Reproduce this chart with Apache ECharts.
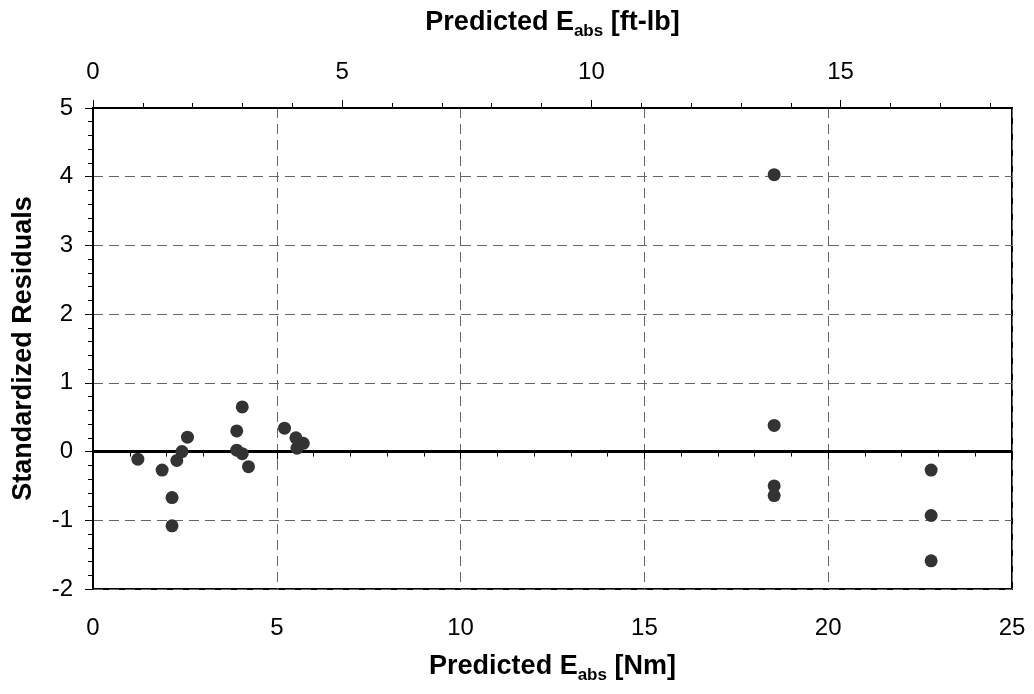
<!DOCTYPE html>
<html>
<head>
<meta charset="utf-8">
<script src="https://cdn.jsdelivr.net/npm/echarts@6/dist/echarts.min.js"></script>
<style>
  html, body { margin: 0; padding: 0; background: #fff; }
  #chart { width: 1034px; height: 694px; }
</style>
</head>
<body>
<div id="chart"></div>
<script>
// Predicted absorbed energy [Nm] and the standardized residual at each point
const predictedNm = [
  1.22, 1.88, 2.15, 2.15, 2.28, 2.42, 2.57,
  3.91, 4.06, 3.91, 4.06, 4.23,
  5.21, 5.52, 5.55, 5.62, 5.72,
  18.53, 18.53, 18.53, 18.53,
  22.80, 22.80, 22.80
];
const residuals = [
  -0.11, -0.27, -0.67, -1.08, -0.13, 0.00, 0.21,
  0.30, 0.65, 0.02, -0.03, -0.22,
  0.34, 0.20, 0.05, 0.13, 0.12,
  4.03, 0.38, -0.50, -0.64,
  -0.27, -0.93, -1.59
];

// Axis ranges and tick values
const nmRange = [0, 25];
const NM_PER_FTLB = 1.35582;
const ftlbMax = nmRange[1] / NM_PER_FTLB;
const ftlbMajorTicks = [0, 5, 10, 15];
const ftlbMinorTicks = [1, 2, 3, 4, 6, 7, 8, 9, 11, 12, 13, 14, 16, 17, 18];
const residualRange = [-2, 5];
const zeroLine = [[0, 0], [25, 0]];

const font = 'Liberation Sans, Arial, sans-serif';
const titleRich = {
  a: { fontFamily: font, fontSize: 27, fontWeight: 'bold', color: '#000' },
  sub: { fontFamily: font, fontSize: 17, fontWeight: 'bold', color: '#000', padding: [18, 0, 0, 0] }
};
const tickFont = { fontFamily: font, fontSize: 24, color: '#000' };
const gridDash = { color: '#666', type: [10, 6], width: 1 };

const chart = echarts.init(document.getElementById('chart'), null, { renderer: 'canvas' });
chart.setOption({
  animation: false,
  backgroundColor: '#fff',
  grid: {
    left: 93, right: 22, top: 108, bottom: 105,
    show: true, borderColor: '#000', borderWidth: 2
  },
  xAxis: [
    {
      type: 'value', position: 'bottom',
      min: nmRange[0], max: nmRange[1], interval: 5,
      name: '{a|Predicted E}{sub|abs}{a| [Nm]}',
      nameLocation: 'middle', nameGap: 60,
      nameTextStyle: { rich: titleRich },
      axisLine: { show: true, lineStyle: { color: '#000', width: 2 } },
      axisTick: { show: true, inside: false, length: 8, lineStyle: { color: '#000', width: 1 } },
      minorTick: { show: true, splitNumber: 5, length: 5, lineStyle: { color: '#000', width: 1 } },
      axisLabel: Object.assign({ margin: 27 }, tickFont),
      splitLine: { show: true, lineStyle: gridDash }
    },
    {
      type: 'value', position: 'top',
      min: 0, max: ftlbMax,
      name: '{a|Predicted E}{sub|abs}{a| [ft-lb]}',
      nameLocation: 'middle', nameGap: 68,
      nameTextStyle: { rich: titleRich },
      axisLine: { show: true, lineStyle: { color: '#000', width: 2 } },
      axisTick: { show: true, inside: false, length: 8, customValues: ftlbMajorTicks, lineStyle: { color: '#000', width: 1 } },
      axisLabel: Object.assign({ margin: 24, customValues: ftlbMajorTicks }, tickFont),
      splitLine: { show: false }
    },
    {
      type: 'value', position: 'top',
      min: 0, max: ftlbMax,
      axisLine: { show: false },
      axisTick: { show: true, inside: false, length: 5, customValues: ftlbMinorTicks, lineStyle: { color: '#000', width: 1 } },
      axisLabel: { show: false },
      splitLine: { show: false }
    }
  ],
  yAxis: [
    {
      type: 'value',
      min: residualRange[0], max: residualRange[1], interval: 1,
      name: 'Standardized Residuals',
      nameLocation: 'middle', nameGap: 56,
      nameTextStyle: { fontFamily: font, fontSize: 27, fontWeight: 'bold', color: '#000' },
      axisLine: { show: true, lineStyle: { color: '#000', width: 2 } },
      axisTick: { show: true, inside: false, length: 8, lineStyle: { color: '#000', width: 1 } },
      minorTick: { show: true, splitNumber: 5, length: 5, lineStyle: { color: '#000', width: 1 } },
      axisLabel: Object.assign({ margin: 20 }, tickFont),
      splitLine: { show: true, lineStyle: gridDash }
    }
  ],
  series: [
    {
      type: 'line',
      xAxisIndex: 0, yAxisIndex: 0,
      data: zeroLine,
      symbol: 'none',
      lineStyle: { color: '#000', width: 3 },
      z: 3
    },
    {
      type: 'scatter',
      xAxisIndex: 0, yAxisIndex: 0,
      data: predictedNm.map((x, i) => [x, residuals[i]]),
      symbol: 'circle',
      symbolSize: 13,
      itemStyle: { color: '#333', opacity: 1 },
      z: 4
    }
  ]
});
</script>
</body>
</html>
